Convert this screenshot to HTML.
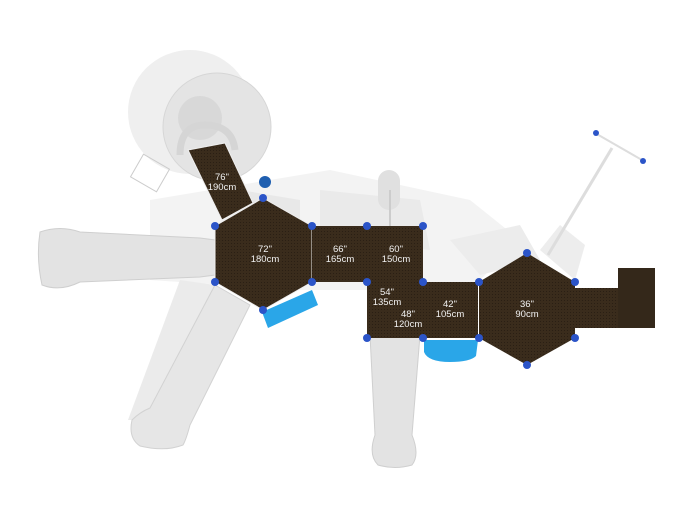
<!DOCTYPE html>
<html><head><style>body{margin:0;background:#fff}svg{display:block}</style></head><body>
<svg width="700" height="525" viewBox="0 0 700 525" xmlns="http://www.w3.org/2000/svg" font-family="Liberation Sans, sans-serif">
<defs>
<pattern id="m" width="3" height="3" patternUnits="userSpaceOnUse"><rect width="3" height="3" fill="#3a2c1c"/><rect width="1" height="1" fill="#2a1f14"/></pattern>
</defs>
<circle cx="190" cy="112" r="62" fill="#efefef"/>
<polygon points="150,200 330,170 470,200 520,240 470,290 300,290 150,280" fill="#f3f3f3"/>
<polygon points="180,280 215,285 150,420 128,420" fill="#ebebeb"/>
<polygon points="240,190 300,200 300,230 240,225" fill="#e8e8e8"/>
<polygon points="320,190 420,200 430,250 320,240" fill="#eaeaea"/>
<polygon points="450,240 520,225 540,260 480,275" fill="#ececec"/>
<polygon points="540,250 560,225 585,245 575,280" fill="#ededed"/>
<circle cx="217" cy="127" r="54" fill="#e4e4e4" stroke="#d6d6d6"/>
<circle cx="200" cy="118" r="22" fill="#d8d8d8"/>
<path d="M40,232 Q60,225 80,232 L200,238 L215,240 L215,275 L200,277 L80,282 Q60,292 42,285 Q36,258 40,232Z" fill="#e3e3e3" stroke="#cfcfcf"/>
<path d="M215,285 L250,305 L190,425 Q186,440 183,445 Q165,452 140,446 Q128,438 132,420 Q140,412 150,408 Z" fill="#e6e6e6" stroke="#d2d2d2"/>
<path d="M370,335 L420,335 L412,435 Q420,455 412,465 Q395,470 378,465 Q368,455 375,435 Z" fill="#e3e3e3" stroke="#cfcfcf"/>
<rect x="378" y="170" width="22" height="40" rx="11" fill="#e0e0e0"/>
<line x1="390" y1="190" x2="390" y2="226" stroke="#ccc" stroke-width="2"/>
<line x1="548" y1="255" x2="612" y2="148" stroke="#ddd" stroke-width="3"/>
<line x1="595" y1="133" x2="642" y2="160" stroke="#ddd" stroke-width="2"/>
<path d="M180,155 Q180,125 205,125 Q232,125 235,150" fill="none" stroke="#d5d5d5" stroke-width="7"/>
<rect x="135" y="160" width="30" height="26" fill="none" stroke="#ccc" transform="rotate(30 150 173)"/>
<polygon points="188,150 225,143 253,203 222,220" fill="url(#m)" stroke="#eee"/>
<polygon points="263,198 312,226 312,282 263,310 215,282 215,226" fill="url(#m)" stroke="#eee"/>
<rect x="312" y="226" width="55" height="56" fill="url(#m)"/>
<rect x="367" y="226" width="56" height="56" fill="url(#m)"/>
<rect x="367" y="282" width="111" height="56" fill="url(#m)"/>
<polygon points="527,253 575,282 575,338 527,365 479,338 479,282" fill="url(#m)"/>
<rect x="575" y="288" width="43" height="40" fill="url(#m)"/>
<rect x="618" y="268" width="37" height="60" fill="#34281a"/>
<polygon points="262,312 312,290 318,305 268,328" fill="#2aa6e8"/>
<path d="M424,340 L478,340 L476,356 Q470,362 450,362 Q428,362 424,352Z" fill="#2aa6e8"/>
<circle cx="265" cy="182" r="6" fill="#1f5fb0"/>
<g fill="#2b54c8">
<circle cx="215" cy="226" r="4"/><circle cx="263" cy="198" r="4"/><circle cx="312" cy="226" r="4"/><circle cx="215" cy="282" r="4"/><circle cx="312" cy="282" r="4"/><circle cx="263" cy="310" r="4"/>
<circle cx="367" cy="226" r="4"/><circle cx="423" cy="226" r="4"/><circle cx="367" cy="282" r="4"/><circle cx="423" cy="282" r="4"/><circle cx="367" cy="338" r="4"/><circle cx="423" cy="338" r="4"/>
<circle cx="479" cy="282" r="4"/><circle cx="527" cy="253" r="4"/><circle cx="575" cy="282" r="4"/><circle cx="575" cy="338" r="4"/><circle cx="527" cy="365" r="4"/><circle cx="479" cy="338" r="4"/>
<circle cx="596" cy="133" r="3"/><circle cx="643" cy="161" r="3"/>
</g>
<g fill="#f2f2f2" font-size="9.5" text-anchor="middle">
<text x="222" y="180">76"</text><text x="222" y="190">190cm</text>
<text x="265" y="252">72"</text><text x="265" y="262">180cm</text>
<text x="340" y="252">66"</text><text x="340" y="262">165cm</text>
<text x="396" y="252">60"</text><text x="396" y="262">150cm</text>
<text x="387" y="295">54"</text><text x="387" y="305">135cm</text>
<text x="408" y="317">48"</text><text x="408" y="327">120cm</text>
<text x="450" y="307">42"</text><text x="450" y="317">105cm</text>
<text x="527" y="307">36"</text><text x="527" y="317">90cm</text>
</g>
</svg>
</body></html>
